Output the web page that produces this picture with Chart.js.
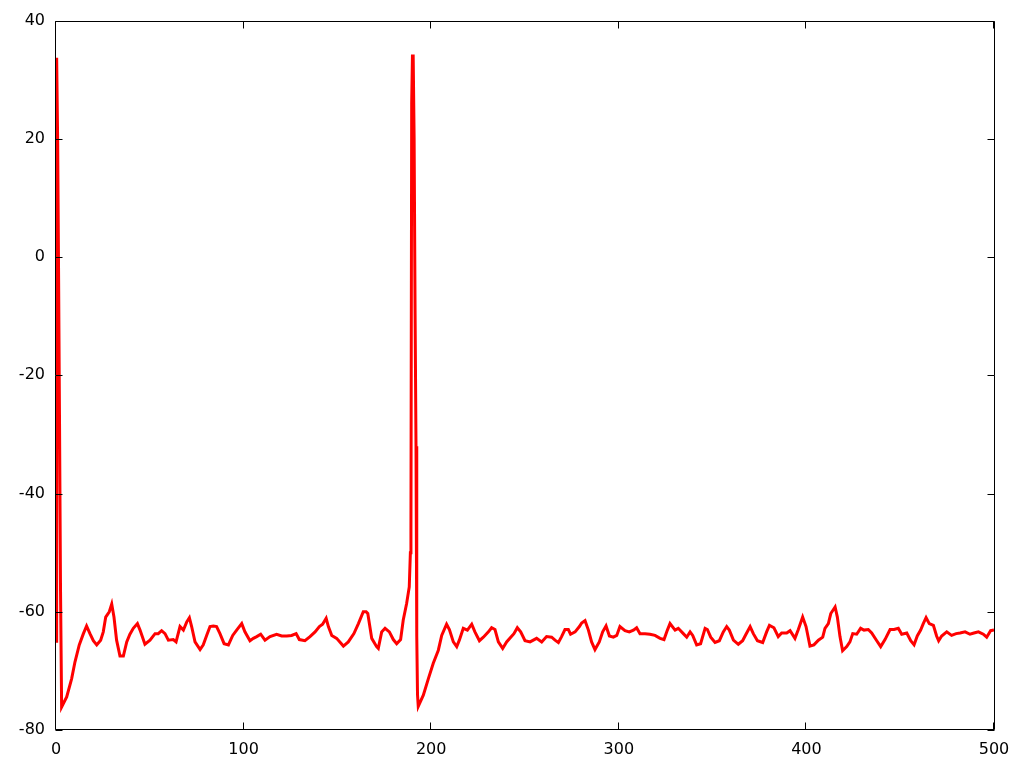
<!DOCTYPE html>
<html>
<head>
<meta charset="utf-8">
<script src="https://cdn.jsdelivr.net/npm/chart.js@4/dist/chart.umd.min.js"></script>
<style>
html,body{margin:0;padding:0;background:#fff;}
#c{display:block;}
</style>
</head>
<body>
<canvas id="c" width="1024" height="768"></canvas>
<script>
// time (ms)
const times = [
  0, 0.2, 0.5, 0.9, 1.4, 1.9, 2.4, 3.0,
  5.7, 8.35, 10.1, 12.4, 14.6, 16.3, 18.1, 19.9, 21.7, 23.8, 25.2, 26.5, 28.4, 29.7,
  30.9, 32.3, 34.1, 35.9, 37.7, 39.4, 41.2, 43.4, 44.8, 47.4, 50.1, 52.8, 54.5, 56.3,
  58.1, 59.9, 62.5, 64, 66.1, 67.9, 69.7, 71.1, 72.3, 74.1, 76.8, 78.5, 80.3, 82.1,
  83.9, 85.6, 87.4, 89.6, 91.9, 94.2, 96.3, 99, 100.7, 103.4, 105.2, 107, 109.1,
  111.4, 114.1, 117.6, 120.3, 123, 125.6, 128, 129.7, 132.7, 135.4, 138.1, 140.4,
  142.1, 144, 145.2, 147, 149.6, 153.2, 155.8, 158.8, 161.2, 163.8, 165.3, 166.2,
  168.3, 170.9, 171.8, 173.6, 175.4, 177.7, 179.8, 181.6, 183.7, 185.1, 186.9, 188.3,
  188.9, 189.2, 189.6, 190.0, 190.4, 190.9, 191.4, 191.9, 192.3, 192.7, 193.1,
  195.8, 198.5, 201.1, 203.8, 205.6, 208.2, 209.7, 211.8, 213.6, 215, 217.1, 219.3,
  221.6, 223.3, 225.7, 227.8, 230.5, 232.2, 234, 235.8, 238.1, 240.2, 242.4, 244.1,
  245.9, 247.7, 250, 252.7, 256.2, 258.9, 261.5, 264.2, 266, 267.8, 269.5, 271.3,
  273.1, 274.3, 276.7, 279, 280.2, 282, 283.8, 285.5, 287.3, 289.6, 291.4, 293.2,
  295, 297.1, 298.9, 300.6, 303.3, 305.6, 307.8, 309.5, 311.3, 314, 316.6, 319.3,
  322, 324.1, 325.9, 327.3, 330, 331.7, 334.4, 336.2, 338, 339.4, 341.5, 343.6, 346,
  347.2, 349, 351.3, 353.6, 355.7, 357.5, 358.9, 361.1, 363.7, 366, 367.8, 370,
  371.7, 373.9, 376.7, 378.8, 380.3, 382.7, 385, 386.8, 389.5, 391.3, 393.9, 395.7,
  398, 399.8, 401.9, 404, 406.4, 408.7, 409.9, 411.7, 413, 415.3, 416.5, 417.9,
  419.3, 421.5, 423.2, 424.7, 426.8, 428.9, 430.7, 433, 434.8, 437.5, 439.6, 441.9,
  444.6, 446.7, 449, 450.8, 453.5, 455.6, 457.4, 459.1, 460.9, 462.3, 463.8, 465.5,
  467.7, 469.4, 470.5, 472.1, 474.8, 477.4, 479.8, 481.9, 484.6, 487.2, 489.3, 491.7,
  494.3, 496.1, 498.2, 500
];
// membrane potential (mV)
const voltage = [
  -65, 26, 33.7, 19, -4, -29, -56, -76.1,
  -74.4, -71.3, -68.5, -65.6, -63.7, -62.4, -63.7, -64.9, -65.6, -64.8, -63.4, -60.9, -60, -58.7,
  -60.9, -64.8, -67.5, -67.5, -65.1, -63.8, -62.8, -62, -63.1, -65.5, -64.8, -63.7, -63.7, -63.2,
  -63.7, -64.8, -64.7, -65.1, -62.5, -63.1, -61.7, -61, -62.5, -65.1, -66.4, -65.6, -64, -62.5,
  -62.4, -62.5, -63.7, -65.4, -65.6, -64, -63.1, -62, -63.4, -64.9, -64.5, -64.2, -63.8,
  -64.8, -64.2, -63.8, -64.1, -64.1, -64, -63.7, -64.7, -64.9, -64.2, -63.4, -62.5,
  -62.1, -61.1, -62.5, -64, -64.5, -65.8, -65.1, -63.7, -62, -60, -60, -60.3,
  -64.5, -65.9, -66.2, -63.4, -62.8, -63.4, -64.7, -65.4, -64.7, -61.4, -58.6, -55.8,
  -50, -46, 26, 34, 34, 20, -9, -32, -64, -74, -76,
  -74.1, -71.3, -68.7, -66.5, -64, -62.1, -63, -65.1, -65.9, -64.8, -62.8, -63.1,
  -62.1, -63.4, -64.9, -64.3, -63.4, -62.7, -63, -65.1, -66.2, -65.1, -64.3, -63.7,
  -62.7, -63.4, -64.9, -65.1, -64.5, -65.1, -64.2, -64.3, -64.8, -65.2, -64.2, -63,
  -63, -63.8, -63.4, -62.5, -61.9, -61.5, -63.1, -65.1, -66.4, -65.1, -63.4, -62.4,
  -64.1, -64.3, -64, -62.5, -63.2, -63.4, -63.1, -62.7, -63.7, -63.7, -63.8, -64,
  -64.5, -64.7, -63.1, -62, -63.1, -62.8, -63.7, -64.3, -63.4, -64, -65.6, -65.4, -62.8,
  -63, -64.3, -65.2, -64.9, -63.4, -62.5, -63.1, -64.8, -65.5, -64.9, -63.8, -62.5,
  -63.7, -64.9, -65.2, -63.4, -62.3, -62.7, -64.2, -63.6, -63.6, -63.2, -64.5, -63,
  -60.9, -62.5, -65.8, -65.6, -64.8, -64.3, -62.8, -62, -60.3, -59.2, -60.9, -64.2,
  -66.6, -65.9, -65.1, -63.7, -63.8, -62.8, -63.1, -63, -63.6, -64.9, -65.9, -64.7,
  -63, -63, -62.8, -63.8, -63.6, -64.9, -65.6, -64.1, -63.1, -62, -61, -62,
  -62.3, -64.1, -64.9, -64.1, -63.4, -64, -63.7, -63.6, -63.4, -63.8, -63.6, -63.4,
  -63.8, -64.3, -63.2, -63.1
];
const xTicks = [0, 100, 200, 300, 400, 500];
const yTicks = [-80, -60, -40, -20, 0, 20, 40];

const points = times.map((t, i) => ({x: t, y: voltage[i]}));

Chart.defaults.font.family = "'DejaVu Sans', sans-serif";
Chart.defaults.font.size = 16;
Chart.defaults.color = '#000';

const framePlugin = {
  id: 'frame',
  afterDraw(chart) {
    const ctx = chart.ctx;
    const a = chart.chartArea;
    const xs = chart.scales.x, ys = chart.scales.y;
    const L = Math.round(a.left) - 0.5, R = Math.round(a.right) + 0.5;
    const T = Math.round(a.top) + 0.5, B = Math.round(a.bottom) - 0.5;
    ctx.save();
    ctx.strokeStyle = '#000';
    ctx.lineWidth = 1;
    ctx.beginPath();
    ctx.rect(L, T, R - L, B - T);
    const tl = 7;
    xTicks.forEach(v => {
      const px = Math.round(xs.getPixelForValue(v)) - 0.5;
      ctx.moveTo(px, B); ctx.lineTo(px, B - tl);
      ctx.moveTo(px, T); ctx.lineTo(px, T + tl);
    });
    yTicks.forEach(v => {
      const py = Math.round(ys.getPixelForValue(v)) + 0.5;
      ctx.moveTo(L, py); ctx.lineTo(L + tl, py);
      ctx.moveTo(R, py); ctx.lineTo(R - tl, py);
    });
    ctx.stroke();
    ctx.restore();
  }
};

new Chart(document.getElementById('c'), {
  type: 'line',
  data: {
    datasets: [{
      data: points,
      borderColor: '#ff0000',
      borderWidth: 3,
      pointRadius: 0,
      tension: 0,
      fill: false
    }]
  },
  options: {
    responsive: false,
    animation: false,
    parsing: false,
    layout: { padding: { top: 20, right: 30, left: 0, bottom: 0 } },
    plugins: { legend: { display: false }, tooltip: { enabled: false } },
    scales: {
      x: {
        type: 'linear',
        min: 0, max: 500,
        afterBuildTicks: s => { s.ticks = xTicks.map(v => ({value: v})); },
        ticks: { padding: 10, maxRotation: 0, autoSkip: false, color: '#000' },
        grid: { display: false, drawTicks: false },
        border: { display: false },
        afterFit: s => { s.height = 38; }
      },
      y: {
        type: 'linear',
        min: -80, max: 40,
        afterBuildTicks: s => { s.ticks = yTicks.map(v => ({value: v})); },
        ticks: { padding: 11, autoSkip: false, color: '#000' },
        grid: { display: false, drawTicks: false },
        border: { display: false },
        afterFit: s => { s.width = 56; }
      }
    }
  },
  plugins: [framePlugin]
});
</script>
</body>
</html>
